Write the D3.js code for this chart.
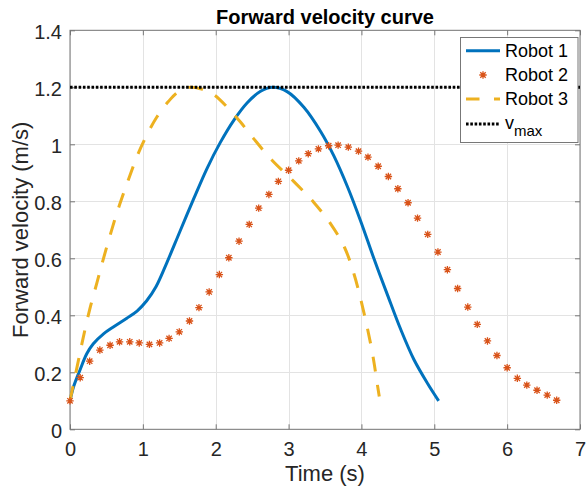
<!DOCTYPE html>
<html>
<head>
<meta charset="utf-8">
<script src="https://cdn.jsdelivr.net/npm/d3@7"></script>
<style>
  html, body { margin: 0; padding: 0; background: #fff; }
  svg { display: block; font-family: "Liberation Sans", Arial, Helvetica, sans-serif; }
</style>
</head>
<body>
<svg id="chart" width="586" height="489"></svg>
<script>
// Forward velocity profiles of three robots (time in s, velocity in m/s)
const robot1Time = [0, 0.05, 0.14, 0.23, 0.32, 0.46, 0.60, 0.78, 0.92, 1.05, 1.18, 1.33, 1.51, 1.70, 1.88, 2.06, 2.25, 2.43, 2.61, 2.78, 2.98, 3.21, 3.44, 3.62, 3.81, 3.99, 4.17, 4.36, 4.54, 4.72, 4.91, 5.06];
const robot1Vel  = [0.10, 0.15, 0.21, 0.265, 0.30, 0.335, 0.36, 0.39, 0.415, 0.45, 0.50, 0.585, 0.695, 0.81, 0.915, 1.005, 1.085, 1.145, 1.185, 1.20, 1.185, 1.13, 1.045, 0.96, 0.85, 0.73, 0.60, 0.47, 0.35, 0.245, 0.16, 0.10];

const robot2Time = [0, 0.14, 0.27, 0.41, 0.55, 0.68, 0.82, 0.95, 1.09, 1.23, 1.36, 1.50, 1.64, 1.77, 1.91, 2.05, 2.18, 2.32, 2.46, 2.59, 2.73, 2.86, 3.00, 3.14, 3.27, 3.41, 3.55, 3.68, 3.82, 3.96, 4.09, 4.23, 4.37, 4.50, 4.64, 4.77, 4.91, 5.05, 5.18, 5.32, 5.46, 5.59, 5.73, 5.86, 6.00, 6.14, 6.27, 6.41, 6.55, 6.68];
const robot2Vel  = [0.10, 0.181, 0.239, 0.278, 0.295, 0.307, 0.307, 0.303, 0.298, 0.303, 0.319, 0.342, 0.380, 0.427, 0.482, 0.543, 0.602, 0.66, 0.719, 0.776, 0.824, 0.870, 0.909, 0.942, 0.967, 0.984, 0.995, 0.997, 0.990, 0.976, 0.955, 0.923, 0.887, 0.844, 0.795, 0.741, 0.684, 0.622, 0.560, 0.494, 0.429, 0.368, 0.310, 0.259, 0.216, 0.179, 0.155, 0.137, 0.120, 0.102];

const robot3Time = [0, 0.11, 0.18, 0.27, 0.37, 0.46, 0.62, 0.71, 0.80, 0.94, 1.08, 1.19, 1.35, 1.49, 1.65, 1.79, 1.97, 2.16, 2.34, 2.52, 2.77, 3.07, 3.35, 3.58, 3.77, 3.90, 4.00, 4.085, 4.16, 4.22, 4.245];
const robot3Vel  = [0.10, 0.235, 0.32, 0.42, 0.515, 0.60, 0.74, 0.81, 0.875, 0.97, 1.045, 1.095, 1.15, 1.185, 1.20, 1.195, 1.175, 1.13, 1.078, 1.02, 0.945, 0.87, 0.795, 0.72, 0.637, 0.543, 0.446, 0.351, 0.254, 0.155, 0.115];

const vMax = 1.2;

const xTicks = [0, 1, 2, 3, 4, 5, 6, 7];
const yTicks = [0, 0.2, 0.4, 0.6, 0.8, 1, 1.2, 1.4];
const yTickLabels = ["0", "0.2", "0.4", "0.6", "0.8", "1", "1.2", "1.4"];

const seriesNames = ["Robot 1", "Robot 2", "Robot 3"];
const colors = { r1: "#0072BD", r2: "#D95319", r3: "#EDB120" };

(function draw() {
  const svg = d3.select("#chart");
  const pl = 70, pr = 580, pt = 30.3, pb = 429.3;
  const x = d3.scaleLinear().domain([0, 7]).range([pl, pr]);
  const y = d3.scaleLinear().domain([0, 1.4]).range([pb, pt]);

  // grid
  const grid = svg.append("g").attr("stroke", "#e3e3e3").attr("stroke-width", 1);
  grid.selectAll("line.gx").data(xTicks).join("line").attr("class", "gx")
    .attr("x1", d => Math.round(x(d)) + 0.5).attr("x2", d => Math.round(x(d)) + 0.5)
    .attr("y1", pt).attr("y2", pb);
  grid.selectAll("line.gy").data(yTicks).join("line").attr("class", "gy")
    .attr("y1", d => Math.round(y(d)) + 0.5).attr("y2", d => Math.round(y(d)) + 0.5)
    .attr("x1", pl).attr("x2", pr);

  // axes with inward ticks on all four sides
  function styleAxis(g) {
    g.select(".domain").remove();
    g.selectAll(".tick line").attr("stroke", "#777");
    g.selectAll(".tick text").attr("fill", "#262626").style("font-size", "20px")
      .style("font-family", "'Liberation Sans', Arial, sans-serif");
  }
  svg.append("g").attr("transform", `translate(0,${pb})`)
    .call(d3.axisBottom(x).tickValues(xTicks).tickSizeInner(-5).tickSizeOuter(0).tickPadding(12.5).tickFormat(d3.format("d")))
    .call(styleAxis);
  svg.append("g").attr("transform", `translate(0,${pt})`)
    .call(d3.axisTop(x).tickValues(xTicks).tickSizeInner(-5).tickSizeOuter(0).tickFormat(""))
    .call(styleAxis);
  svg.append("g").attr("transform", `translate(${pl},0)`)
    .call(d3.axisLeft(y).tickValues(yTicks).tickSizeInner(-5).tickSizeOuter(0).tickPadding(8).tickFormat((d, i) => yTickLabels[i]))
    .call(styleAxis)
    .call(g => g.selectAll(".tick text").attr("dy", "0.42em"));
  svg.append("g").attr("transform", `translate(${pr},0)`)
    .call(d3.axisRight(y).tickValues(yTicks).tickSizeInner(-5).tickSizeOuter(0).tickFormat(""))
    .call(styleAxis);

  // box
  svg.append("rect").attr("x", pl).attr("y", pt).attr("width", pr - pl).attr("height", pb - pt)
    .attr("fill", "none").attr("stroke", "#777").attr("stroke-width", 1);

  const plot = svg.append("g");
  const line = d3.line().x(d => x(d[0])).y(d => y(d[1])).curve(d3.curveCatmullRom.alpha(0.5));

  // Robot 1: solid
  plot.append("path").datum(d3.zip(robot1Time, robot1Vel))
    .attr("d", line).attr("fill", "none").attr("stroke", colors.r1).attr("stroke-width", 3);

  // Robot 3: dashed
  plot.append("path").datum(d3.zip(robot3Time, robot3Vel))
    .attr("d", line).attr("fill", "none").attr("stroke", colors.r3).attr("stroke-width", 3)
    .attr("stroke-dasharray", "15,13.5");

  // Robot 2: asterisk markers
  const asterisk = "M-3.7,0H3.7M0,-3.7V3.7M-2.7,-2.7L2.7,2.7M-2.7,2.7L2.7,-2.7";
  plot.selectAll("path.r2").data(d3.zip(robot2Time, robot2Vel)).join("path")
    .attr("class", "r2")
    .attr("transform", d => `translate(${x(d[0])},${y(d[1])})`)
    .attr("d", asterisk).attr("fill", "none").attr("stroke", colors.r2).attr("stroke-width", 1.3);

  // maximum velocity reference
  plot.append("line").attr("x1", x(0)).attr("x2", x(7)).attr("y1", y(vMax)).attr("y2", y(vMax))
    .attr("stroke", "#000").attr("stroke-width", 3).attr("stroke-dasharray", "2.6,1.7");

  // title and axis labels
  svg.append("text").attr("x", (pl + pr) / 2).attr("y", 24).attr("text-anchor", "middle")
    .style("font-size", "20px").style("font-weight", "bold").attr("fill", "#000").text("Forward velocity curve");
  svg.append("text").attr("x", (pl + pr) / 2).attr("y", 481).attr("text-anchor", "middle")
    .style("font-size", "22px").attr("fill", "#262626").text("Time (s)");
  svg.append("text").attr("transform", `translate(28,${(pt + pb) / 2}) rotate(-90)`).attr("text-anchor", "middle")
    .style("font-size", "22px").attr("fill", "#262626").text("Forward velocity (m/s)");

  // legend
  const lg = svg.append("g");
  lg.append("rect").attr("x", 460.5).attr("y", 37.5).attr("width", 117.5).attr("height", 105)
    .attr("fill", "#fff").attr("stroke", "#777").attr("stroke-width", 1);
  const rowY = [50.7, 75, 99, 124];
  const sx1 = 466, sx2 = 500, tx = 505;
  lg.append("line").attr("x1", sx1).attr("x2", sx2).attr("y1", rowY[0]).attr("y2", rowY[0])
    .attr("stroke", colors.r1).attr("stroke-width", 3);
  lg.append("path").attr("transform", `translate(${(sx1 + sx2) / 2},${rowY[1]})`)
    .attr("d", asterisk).attr("fill", "none").attr("stroke", colors.r2).attr("stroke-width", 1.3);
  lg.append("line").attr("x1", sx1).attr("x2", sx2).attr("y1", rowY[2]).attr("y2", rowY[2])
    .attr("stroke", colors.r3).attr("stroke-width", 3).attr("stroke-dasharray", "13.5,14.5");
  lg.append("line").attr("x1", sx1).attr("x2", sx2).attr("y1", rowY[3]).attr("y2", rowY[3])
    .attr("stroke", "#000").attr("stroke-width", 3).attr("stroke-dasharray", "2.6,1.7");
  seriesNames.forEach((name, i) => {
    lg.append("text").attr("x", tx).attr("y", rowY[i] + 6).style("font-size", "18px").attr("fill", "#000").text(name);
  });
  const vt = lg.append("text").attr("x", tx).attr("y", 129).style("font-size", "18px").attr("fill", "#000");
  vt.append("tspan").text("v");
  vt.append("tspan").attr("dy", 7).style("font-size", "15px").text("max");
})();
</script>
</body>
</html>
